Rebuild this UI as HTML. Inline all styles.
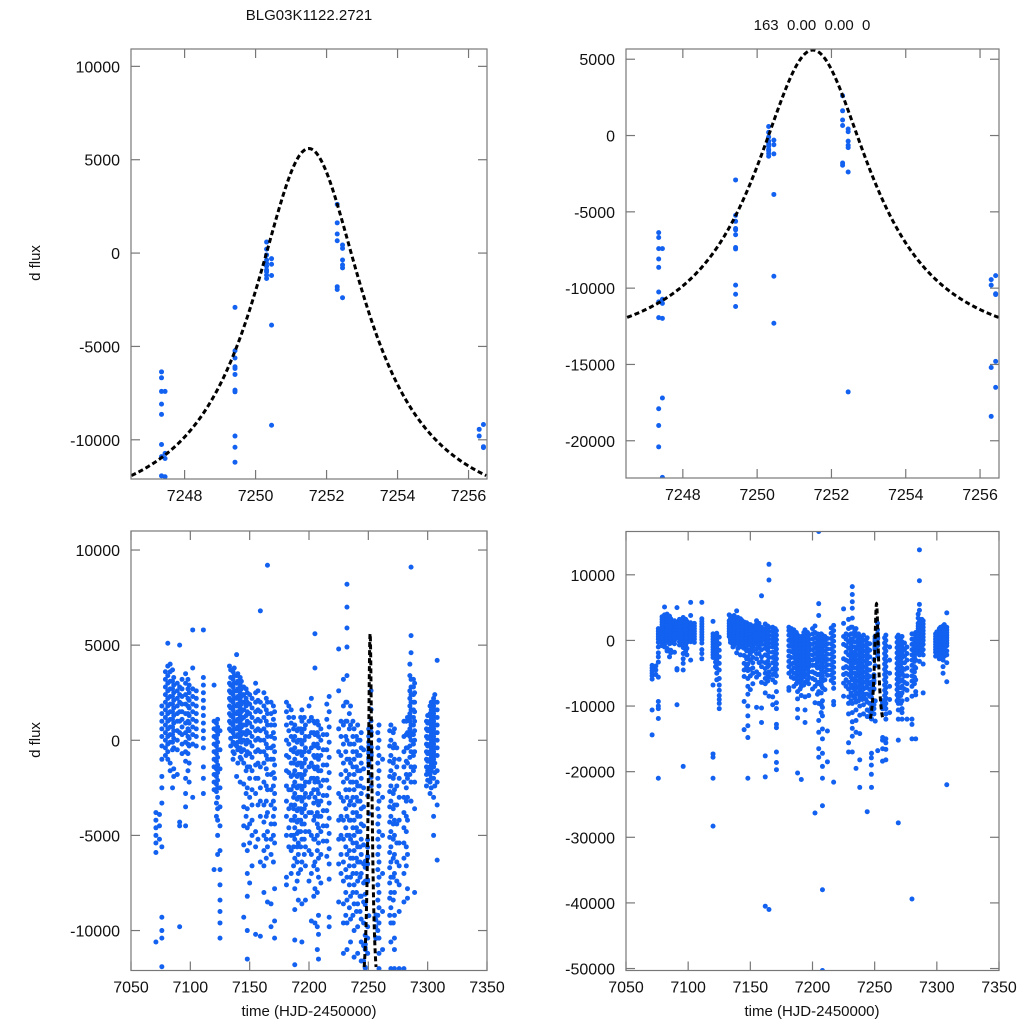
<!DOCTYPE html>
<html><head><meta charset="utf-8"><style>
html,body{margin:0;padding:0;background:#fff;overflow:hidden;width:1024px;height:1024px;}
svg{display:block;font-family:"Liberation Sans",sans-serif;}
</style></head><body>
<svg id="fig" width="1024" height="1024" viewBox="0 0 1024 1024" xmlns="http://www.w3.org/2000/svg">
<text x="309" y="20" font-size="15" text-anchor="middle" fill="#111">BLG03K1122.2721</text>
<text x="812" y="30" font-size="15" text-anchor="middle" fill="#111" xml:space="preserve">163  0.00  0.00  0</text>
<text transform="translate(40,263) rotate(-90)" font-size="15" text-anchor="middle" fill="#111">d flux</text>
<text transform="translate(40,740) rotate(-90)" font-size="15" text-anchor="middle" fill="#111">d flux</text>
<text x="309" y="1016" font-size="15" text-anchor="middle" fill="#111">time (HJD-2450000)</text>
<text x="812" y="1016" font-size="15" text-anchor="middle" fill="#111">time (HJD-2450000)</text>
</svg>
<script>
// ---- data (flux in thousands) ----
const nightTimes = [7071,7074,7076,7081,7083,7086,7089,7091,7096,7099,7102,7111,7120,7123,7125,7133,7136,7139,7142,7145,7148,7152,7155,7159,7162,7165,7168,7171,7181,7185,7188,7191,7194,7197,7202,7205,7208,7212,7217,7225,7229,7232,7235,7238,7241,7244,7246,7247.35,7247.45,7249.42,7250.31,7250.45,7252.3,7252.45,7256.3,7256.42,7259,7262,7269,7272,7276,7280,7283,7286,7289,7299,7302,7305,7308];
const nightFlux = [
[-3.8,-4.2,-4.6,-5.0,-5.4,-5.9,-10.6,-14.4],
[-3.9,-4.5,-5.2],
[1.8,1.4,1.0,0.6,0.2,-0.3,-1.0,-1.9,-2.5,-3.3,-5.6,-9.3,-10.0,-10.4,-11.9,-21.0],
[5.1,3.9,3.4,3.0,2.6,2.2,1.8,1.4,1.0,0.6,0.2,-0.2,-0.6,-1.0],
[4.0,3.6,3.1,2.7,2.3,1.9,1.5,1.1,0.7,0.3,-0.1,-1.2,-1.6],
[3.3,2.9,2.5,2.1,1.7,1.3,0.9,0.5,0.1,-0.4,-1.5,-1.9],
[3.0,2.6,2.2,1.8,1.4,1.0,0.5,0.0,-0.5,-1.8],
[5.0,2.8,2.4,2.0,1.5,1.0,0.4,-4.3,-4.5,-9.8],
[3.5,3.0,2.4,1.9,1.4,0.9,0.4,-0.1,-0.6,-1.1,-2.0,-2.8,-3.5,-4.5,-19.2],
[2.9,2.5,2.1,1.7,1.3,0.9,0.5,0.1,-0.3,-1.2,-2.2],
[5.8,3.8,2.7,2.3,1.9,1.5,1.1,0.7,0.3,-0.2,-3.0],
[5.8,3.3,2.9,2.5,2.1,1.7,1.3,0.9,0.5,0.1,-0.4,-1.4,-2.0,-2.8],
[2.9,1.0,0.6,0.2,-0.2,-0.6,-1.0,-1.4,-1.8,-2.2,-2.6,-6.8,-17.3,-17.8,-21.0,-28.3],
[1.1,0.7,0.3,-0.1,-0.5,-0.9,-1.3,-1.7,-2.1,-2.5,-3.0,-3.6,-4.2,-5.0,-6.0],
[0.5,-0.5,-1.5,-2.5,-3.5,-4.5,-5.8,-6.8,-7.6,-8.4,-9.0,-9.6,-10.4],
[3.9,3.0,2.6,2.2,1.8,1.4,1.0,0.6],
[3.6,3.2,2.8,2.4,2.0,1.6,1.2,0.8,0.4,-0.1,-0.6,-1.0],
[4.5,3.4,3.0,2.6,2.2,1.8,1.4,1.0,0.6,0.2,-0.3,-1.9],
[3.3,2.9,2.5,2.1,1.7,1.3,0.9,0.5,0.1,-0.4,-0.9,-2.2],
[2.8,2.4,2.0,1.6,1.2,0.8,0.4,0.0,-0.5,-1.2,-2.3,-3.5,-4.5,-5.5,-9.3,-13.6],
[2.5,2.0,1.5,1.0,0.5,0.0,-0.6,-1.4,-2.5,-3.6,-4.6,-5.8,-7.0,-8.2,-10.0,-11.5,-13.0,-14.8,-21.0],
[2.2,1.7,1.2,0.7,0.2,-0.3,-0.9,-1.6,-2.6,-3.4,-4.2,-5.0,-6.6],
[3.0,2.5,2.0,1.5,1.0,0.5,0.0,-0.6,-1.3,-2.0,-2.8,-4.8,-5.6,-10.2],
[6.8,2.0,1.5,1.0,0.5,0.0,-0.6,-1.4,-2.5,-3.2,-4.0,-6.4,-10.3,-12.5],
[2.5,1.8,1.2,0.6,0.0,-0.6,-1.2,-2.2,-3.4,-4.3,-5.0,-5.8,-6.6,-8.0,-17.6,-20.8,-40.5],
[11.6,9.2,2.0,1.4,0.8,0.2,-0.4,-1.0,-1.8,-2.6,-3.8,-4.8,-5.6,-8.5,-41.0],
[2.0,1.4,0.8,0.2,-0.4,-1.0,-1.8,-2.6,-3.4,-4.4,-5.2,-6.0,-8.6,-9.8],
[1.5,0.8,0.1,-0.6,-1.3,-2.0,-2.8,-3.6,-4.4,-5.4,-7.8,-9.5,-10.4,-12.8,-13.3,-17.0,-18.6,-19.7],
[2.0,1.5,0.8,0.0,-0.8,-1.6,-2.4,-3.2,-4.0,-5.0,-7.2,-7.6],
[1.6,0.9,0.2,-0.5,-1.2,-1.9,-2.6,-3.4,-4.2,-5.0,-5.8,-7.0],
[0.8,0.2,-0.4,-1.0,-1.6,-2.2,-2.8,-3.4,-4.0,-4.6,-5.2,-6.2,-7.8,-8.9,-10.5,-11.8,-20.2],
[0.6,0.0,-0.6,-1.2,-1.8,-2.4,-3.0,-3.6,-4.2,-4.8,-5.4,-6.0,-7.0,-8.4,-21.2],
[1.6,1.0,0.4,-0.2,-0.8,-1.4,-2.0,-2.6,-3.2,-3.8,-4.4,-5.2,-6.4,-8.6,-10.6,-12.5],
[0.8,0.2,-0.4,-1.0,-1.6,-2.2,-2.8,-3.4,-4.0,-4.8,-5.6,-6.6,-8.4],
[2.2,1.2,0.4,-0.4,-1.2,-2.0,-2.8,-3.8,-5.0,-6.0,-7.0,-9.5,-26.3],
[16.6,5.6,3.8,0.9,0.3,-0.3,-0.9,-1.5,-2.2,-3.0,-4.0,-5.2,-6.4,-7.8,-9.6,-12.2,-14.0,-16.5,-17.8],
[0.8,0.2,-0.4,-1.0,-1.6,-2.2,-2.8,-3.4,-4.0,-4.6,-5.4,-6.2,-7.2,-9.2,-10.2,-11.5,-13.5,-15.0,-17.2,-19.2,-21.0,-25.2,-38.0,-50.3],
[0.3,-0.5,-1.3,-2.1,-2.9,-3.7,-4.5,-5.3,-13.8,-18.5],
[2.3,1.5,0.7,-0.1,-0.9,-1.7,-2.5,-3.3,-4.1,-4.9,-5.7,-6.5,-7.3,-9.3,-9.8,-21.6],
[4.8,2.6,0.6,-0.6,-2.8,-4.2,-5.2,-6.5,-8.5],
[3.2,1.8,0.8,-0.2,-1.2,-2.2,-3.2,-4.2,-5.2,-6.4,-7.4,-8.6,-9.6,-11.2,-15.6,-17.0],
[8.2,7.0,5.9,4.9,3.4,2.0,1.0,0.0,-1.0,-2.0,-3.0,-4.0,-5.0,-6.0,-7.2,-8.4,-9.6,-11.0,-12.4,-13.4,-14.6,-17.0],
[1.8,0.8,-0.2,-1.2,-2.2,-3.2,-4.2,-5.2,-6.2,-7.2,-8.2,-9.4,-10.6,-12.2,-14.0,-19.5],
[0.6,-0.2,-1.0,-1.8,-2.6,-3.4,-4.2,-5.0,-5.8,-6.6,-7.6,-8.6,-10.0,-11.4,-14.2,-18.2,-22.4],
[0.8,0.0,-0.8,-1.6,-2.4,-3.2,-4.0,-4.8,-5.6,-6.4,-7.4,-8.6,-9.8,-11.2],
[0.4,-0.4,-1.2,-2.0,-2.8,-3.6,-4.4,-5.2,-6.0,-7.0,-8.2,-9.4,-10.6,-11.6,-26.1],
[-0.5,-1.5,-2.5,-3.5,-4.5,-5.5,-6.5,-7.5,-8.5,-9.6,-10.8,-11.6],
[-6.36,-6.68,-7.41,-8.09,-8.64,-10.25,-10.9,-11.93,-17.9,-19.0,-20.4],
[-7.41,-10.73,-11.0,-11.98,-17.2,-22.4],
[-2.91,-5.23,-5.62,-6.09,-6.18,-6.5,-7.34,-7.43,-9.8,-10.4,-11.2],
[0.59,0.21,-0.1,-0.37,-0.55,-0.70,-0.91,-1.0,-1.18,-1.36],
[-0.3,-0.6,-1.2,-3.86,-9.22,-12.3],
[2.61,1.62,1.02,0.66,-1.80,-1.95],
[0.43,0.25,-0.37,-0.64,-0.79,-2.39,-16.8],
[-9.44,-9.80,-15.2,-18.4],
[-9.18,-10.37,-10.42,-14.8,-16.5],
[0.8,0.0,-0.8,-1.6,-2.4,-3.2,-4.0,-4.8,-5.6,-6.4,-7.2,-8.0,-8.8,-9.6,-10.4,-11.2,-12.0,-15.0,-15.6,-16.6,-18.2],
[-1.0,-3.0,-5.0,-7.0,-9.0,-11.0],
[0.8,0.0,-0.8,-1.6,-2.4,-3.2,-4.0,-4.8,-5.6,-6.4,-7.2,-8.0,-8.8,-9.6,-10.6,-12.0,-15.2,-27.8],
[0.6,-0.2,-1.0,-1.8,-2.6,-3.4,-4.2,-5.0,-6.0,-7.0,-8.0,-9.2,-10.4,-11.0,-12.0],
[-1.0,-2.0,-3.0,-4.2,-5.4,-6.6,-7.6,-9.0,-12.0],
[1.0,0.2,-0.6,-1.4,-2.2,-3.0,-3.8,-4.6,-5.4,-6.2,-7.0,-8.5,-12.0,-12.8,-15.0,-39.4],
[1.2,0.4,-0.4,-1.2,-2.0,-3.0,-4.2,-6.0,-7.8,-8.3,-15.0],
[13.8,9.1,5.5,4.6,3.2,2.8,2.4,2.0,1.6,1.2,0.8,0.4,0.0,-0.6,-1.4,-2.2,-3.2],
[3.0,2.5,2.0,1.5,1.0,0.5,0.0,-0.6,-1.4,-2.2,-3.6,-8.0],
[1.0,0.6,0.2,-0.2,-0.6,-1.0,-1.4,-1.8,-2.4],
[1.8,1.4,1.0,0.6,0.2,-0.2,-0.6,-1.0,-1.4,-1.8,-2.2,-2.8],
[2.2,1.8,1.4,1.0,0.6,0.2,-0.2,-0.6,-1.0,-1.4,-2.0,-3.0,-4.0,-5.0],
[4.2,2.0,1.6,1.2,0.8,0.4,0.0,-0.4,-0.8,-1.6,-2.2,-3.4,-6.3,-22.0]
];
// additional denser observations within the main seasons
const extraTimes = [7079,7085,7093,7098,7105,7122,7134,7137,7140,7143,7147,7150,7157,7164,7170,7183,7187,7190,7193,7196,7200,7204,7207,7210,7215,7227,7231,7234,7237,7240,7243,7258,7268,7271,7274,7282,7285,7288,7300,7303,7306];
const extraFlux = [
[3.6,3.2,2.8,2.4,2.0,1.6,1.2,0.8,0.4,0.0,-0.4,-0.8],
[3.7,3.1,2.7,2.3,1.9,1.5,1.1,0.7,0.3,-0.1,-0.5,-2.5],
[3.2,2.7,2.3,1.9,1.5,1.1,0.7,0.3,-0.2,-0.7],
[3.2,2.7,2.2,1.8,1.4,1.0,0.6,0.2,-0.2,-0.7,-1.6],
[2.6,2.2,1.8,1.4,1.0,0.6,0.2,-0.3],
[0.9,0.5,0.1,-0.3,-0.7,-1.1,-1.5,-1.9,-2.3,-2.7,-3.3,-4.0],
[3.7,3.3,2.9,2.5,2.1,1.7,1.3,0.9,0.5,0.1,-0.3],
[3.8,3.4,3.0,2.6,2.2,1.8,1.4,1.0,0.6,0.2,-0.2,-0.7],
[3.5,3.1,2.7,2.3,1.9,1.5,1.1,0.7,0.3,-0.1,-0.5,-1.2],
[3.1,2.7,2.3,1.9,1.5,1.1,0.7,0.3,-0.1,-0.6,-1.0],
[2.7,2.2,1.8,1.3,0.8,0.3,-0.2,-0.8,-1.6,-2.8,-4.0],
[2.4,1.9,1.4,0.9,0.4,-0.1,-0.7,-1.4,-2.0,-3.0,-4.4,-5.4,-7.5],
[2.6,2.1,1.6,1.1,0.6,0.1,-0.5,-1.2,-2.0,-3.4,-5.2],
[2.2,1.6,1.0,0.4,-0.2,-0.8,-1.5,-2.4,-3.2,-4.0,-5.2,-6.2],
[1.8,1.1,0.4,-0.3,-1.0,-1.7,-2.4,-3.2,-4.0,-5.0,-6.4],
[1.8,1.2,0.5,-0.2,-0.9,-1.7,-2.6,-3.6,-4.6,-5.6],
[1.2,0.6,0.0,-0.6,-1.2,-1.8,-2.4,-3.0,-3.6,-4.2,-5.0,-5.6,-6.6],
[0.5,-0.1,-0.7,-1.3,-1.9,-2.5,-3.1,-3.7,-4.3,-4.9,-5.6,-6.4,-7.4],
[1.2,0.6,0.0,-0.6,-1.2,-1.8,-2.4,-3.0,-3.6,-4.2,-4.8,-5.6,-6.8],
[1.2,0.6,0.0,-0.6,-1.2,-1.8,-2.4,-3.0,-3.6,-4.4,-5.2,-6.0],
[1.8,1.0,0.2,-0.6,-1.4,-2.2,-3.0,-3.8,-4.8,-5.8,-7.4],
[1.0,0.4,-0.2,-0.8,-1.4,-2.0,-2.6,-3.3,-4.2,-5.2,-6.6,-8.2],
[1.0,0.4,-0.2,-0.8,-1.4,-2.0,-2.6,-3.2,-3.8,-4.4,-5.0,-5.8,-6.8,-8.0,-9.8,-11.0],
[0.6,0.0,-0.8,-1.6,-2.4,-3.2,-4.0,-4.8,-6.0,-7.5],
[1.9,1.1,0.3,-0.5,-1.3,-2.1,-2.9,-3.7,-4.5,-5.3,-6.1],
[1.0,0.2,-0.8,-1.8,-3.0,-4.0,-5.0,-6.0,-7.0],
[2.0,1.0,0.2,-0.6,-1.6,-2.6,-3.6,-4.6,-5.6,-6.8,-8.0,-9.2],
[1.4,0.6,-0.2,-1.0,-1.8,-2.6,-3.4,-4.2,-5.0,-5.8,-6.6,-7.6,-8.8],
[1.0,0.2,-0.6,-1.4,-2.2,-3.0,-3.8,-4.6,-5.4,-6.2,-7.0,-8.0,-9.2],
[0.2,-0.6,-1.4,-2.2,-3.0,-3.8,-4.6,-5.4,-6.2,-7.0,-8.0,-9.0],
[0.0,-0.8,-1.6,-2.4,-3.2,-4.0,-4.8,-5.6,-6.4,-7.2,-8.2,-9.0],
[0.4,-0.4,-1.2,-2.0,-2.8,-3.6,-4.4,-5.2,-6.0,-6.8,-7.6,-8.4,-9.2,-10.0],
[0.5,-0.3,-1.1,-1.9,-2.7,-3.5,-4.3,-5.1,-5.9,-6.7,-7.5,-8.3,-9.2],
[0.4,-0.4,-1.2,-2.0,-2.8,-3.6,-4.4,-5.2,-6.2,-7.2,-8.4,-9.6],
[-0.4,-1.4,-2.4,-3.4,-4.4,-5.4,-6.4,-7.4],
[1.0,0.3,-0.4,-1.1,-1.8,-2.5,-3.2,-4.0,-4.8,-5.6,-6.6],
[4.0,3.4,2.6,2.2,1.8,1.4,1.0,0.6,0.2,-0.3,-0.9,-1.8],
[3.2,2.8,2.4,2.0,1.6,1.2,0.8,0.3,-0.2,-0.8,-1.6],
[1.3,0.9,0.5,0.1,-0.3,-0.7,-1.1,-1.6,-2.1],
[2.0,1.6,1.2,0.8,0.4,0.0,-0.4,-0.8,-1.2,-1.6,-2.0,-2.5],
[2.4,2.0,1.6,1.2,0.8,0.4,0.0,-0.4,-0.8,-1.2,-1.7,-2.4]
];
// model: base, height (thousands), t0, width (days), plotted range
const modelParams = [-14.5, 20.1, 7251.5, 1.92];
const modelRange = [7246.5, 7256.5];
const zoomXTicks = [7248,7250,7252,7254,7256];
const fullXTicks = [7050,7100,7150,7200,7250,7300,7350];
const yTicksTL = [10000,5000,0,-5000,-10000];
const yTicksTR = [5000,0,-5000,-10000,-15000,-20000];
const yTicksBL = [10000,5000,0,-5000,-10000];
const yTicksBR = [10000,0,-10000,-20000,-30000,-40000,-50000];

const NS='http://www.w3.org/2000/svg';
const svg=document.getElementById('fig');
function mk(tag,attrs,parent){const e=document.createElementNS(NS,tag);for(const k in attrs)e.setAttribute(k,attrs[k]);(parent||svg).appendChild(e);return e;}

const panels=[
 {id:'top-left',x0:131,x1:487,y0:49,y1:479,xd:[7246.49,7256.52],yd:[-12100,10930],xt:zoomXTicks,yt:yTicksTL},
 {id:'top-right',x0:626,x1:999,y0:49,y1:478,xd:[7246.47,7256.51],yd:[-22440,5670],xt:zoomXTicks,yt:yTicksTR},
 {id:'bottom-left',x0:131,x1:487,y0:531,y1:970.5,xd:[7050,7350],yd:[-12100,11000],xt:fullXTicks,yt:yTicksBL},
 {id:'bottom-right',x0:626,x1:999,y0:531.5,y1:970.5,xd:[7050,7350],yd:[-50300,16600],xt:fullXTicks,yt:yTicksBR}
];
panels.forEach(p=>{
 const sx=v=>p.x0+(v-p.xd[0])/(p.xd[1]-p.xd[0])*(p.x1-p.x0);
 const sy=v=>p.y1-(v-p.yd[0])/(p.yd[1]-p.yd[0])*(p.y1-p.y0);
 const g=mk('g',{});
 
 
 const cid='clip-'+p.id;
 const cp=mk('clipPath',{id:cid},g);
 mk('rect',{x:p.x0,y:p.y0,width:p.x1-p.x0,height:p.y1-p.y0},cp);
 const pts=mk('g',{'clip-path':'url(#'+cid+')'},g);
 
 
 const drawSet=(times,flux)=>times.forEach((t,i)=>{
  flux[i].forEach(v=>{
   mk('circle',{cx:sx(t).toFixed(2),cy:sy(v*1000).toFixed(2),r:2.5,fill:'#1261f0'},pts);
  });
 });
 drawSet(nightTimes,nightFlux);
 drawSet(extraTimes,extraFlux);
 let d='';
 for(let k=0;k<=300;k++){
  const t=modelRange[0]+(modelRange[1]-modelRange[0])*k/300;
  const u=(t-modelParams[2])/modelParams[3];
  const f=(modelParams[0]+modelParams[1]/(1+u*u))*1000;
  d+=(k?'L':'M')+sx(t).toFixed(2)+','+sy(f).toFixed(2);
 }
 const ml=mk('path',{d:d,fill:'none',stroke:'#000','stroke-width':3,'stroke-dasharray':'5,3','clip-path':'url(#'+cid+')'},g);
 
 
 const fr=mk('rect',{x:p.x0,y:p.y0,width:p.x1-p.x0,height:p.y1-p.y0,fill:'none',stroke:'#777','stroke-width':1.2},g);
 
 
 p.xt.forEach(v=>{
  const x=sx(v);
  mk('line',{x1:x,x2:x,y1:p.y1,y2:p.y1-9,stroke:'#777','stroke-width':1.2},g);
  mk('line',{x1:x,x2:x,y1:p.y0,y2:p.y0+9,stroke:'#777','stroke-width':1.2},g);
  const tx=mk('text',{x:x,y:p.y1+22,'font-size':16,'text-anchor':'middle',fill:'#111'},g);
  tx.textContent=v;
  
  
 });
 p.yt.forEach(v=>{
  const y=sy(v);
  mk('line',{x1:p.x0,x2:p.x0+9,y1:y,y2:y,stroke:'#777','stroke-width':1.2},g);
  mk('line',{x1:p.x1,x2:p.x1-9,y1:y,y2:y,stroke:'#777','stroke-width':1.2},g);
  const tx=mk('text',{x:p.x0-11,y:y+6,'font-size':16,'text-anchor':'end',fill:'#111'},g);
  tx.textContent=v;
  
  
 });
});
</script>
</body></html>
